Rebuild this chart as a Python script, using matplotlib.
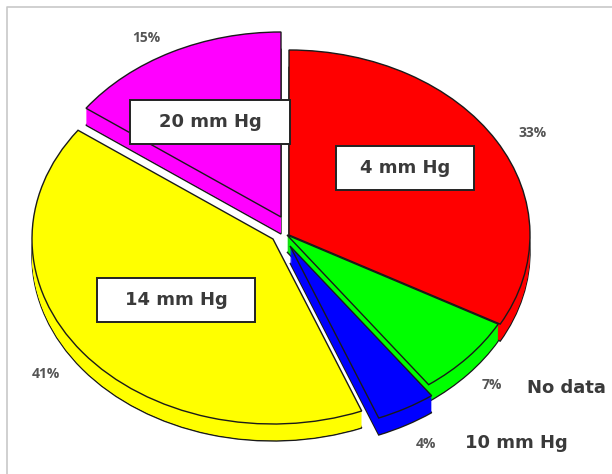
import matplotlib
matplotlib.use('Agg')
import matplotlib.pyplot as plt
from matplotlib.lines import Line2D
from matplotlib.patches import Rectangle

names = ['4 mm Hg', 'No data', '10 mm Hg', '14 mm Hg', '20 mm Hg']
shares = [33, 7, 4, 41, 15]
percent_labels = ['33%', '7%', '4%', '41%', '15%']
colors = ['#ff0000', '#00ff00', '#0000ff', '#ffff00', '#ff00ff']

W, H = 612, 474
RX, RY = 241, 185
CX, CY = 289, 235
DEPTH = 17

# pixel shift of each slice away from the pie centre
shifts = [(0, 0), (-2, 0), (1, 11), (-16, 4), (-8, -18)]
draw_order = [4, 0, 3, 1, 2]

fig = plt.figure(figsize=(W / 100, H / 100), dpi=100)
ax = fig.add_axes([0, 0, 1, 1])


def to_fig(x, y):
    return x / W, 1 - y / H


def layer(dy, edge):
    wedges, _ = ax.pie(shares, colors=colors, startangle=90, counterclock=False, radius=1,
                       wedgeprops={'linewidth': 1.0 if edge else 0,
                                   'edgecolor': '#1a1a1a' if edge else 'none'})
    ax.set_aspect('auto')
    ax.set_xlim(-CX / RX, (W - CX) / RX)
    ax.set_ylim((CY - H) / RY, CY / RY)
    for i, w in enumerate(wedges):
        sx, sy = shifts[i]
        w.set_center((sx / RX, -(sy + dy) / RY))
    return wedges


for n, i in enumerate(draw_order):
    for d in range(DEPTH, -1, -1):
        wedges = layer(d, d in (0, DEPTH))
        for j, w in enumerate(wedges):
            if j == i:
                w.set_zorder(n * 100 + DEPTH - d + 1)
            else:
                w.remove()

ax.axis('off')

# only the top and left border of the picture show
fig.add_artist(Line2D([6.5 / W, 6.5 / W, 1], [0, 1 - 7 / H, 1 - 7 / H], transform=fig.transFigure,
                      color='#c8c8c8', linewidth=1.2))

label_font = {'family': 'DejaVu Sans', 'fontweight': 'bold', 'fontsize': 13, 'color': '#3a3a3a'}

box_pos = {'4 mm Hg': (405, 168, 138, 44), '14 mm Hg': (176, 300, 158, 44), '20 mm Hg': (210, 122, 160, 44)}
for name, (x, y, bw, bh) in box_pos.items():
    fx, fy = to_fig(x - bw / 2, y + bh / 2)
    fig.add_artist(Rectangle((fx, fy), bw / W, bh / H, transform=fig.transFigure, facecolor='white',
                             edgecolor='#222222', linewidth=1.4, zorder=5))
    fig.text(*to_fig(x, y), name, ha='center', va='center', zorder=6, **label_font)

free_pos = {'No data': (566, 388), '10 mm Hg': (516, 443)}
for name, (x, y) in free_pos.items():
    fig.text(*to_fig(x, y), name, ha='center', va='center', **label_font)

pct_pos = [(533, 133), (492, 385), (426, 444), (46, 374), (146, 38)]
for label, (x, y) in zip(percent_labels, pct_pos):
    fig.text(*to_fig(x, y), label, ha='center', va='center', family='Open Sans', fontsize=10,
             fontweight='bold', color='#555555')

fig.savefig('out.png', dpi=100)
